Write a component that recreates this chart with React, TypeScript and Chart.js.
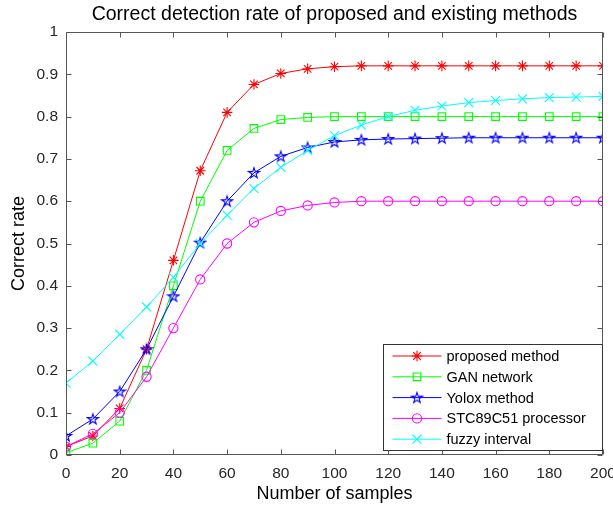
import React, { useEffect, useRef } from "react";
import { Chart, registerables } from "chart.js";
import { drawPoint } from "chart.js/helpers";

Chart.register(...registerables);

const samples = [0, 10, 20, 30, 40, 50, 60, 70, 80, 90, 100, 110, 120, 130, 140, 150, 160, 170, 180, 190, 200];
const proposedMethod = [0.02, 0.045, 0.11, 0.25, 0.46, 0.672, 0.81, 0.876, 0.902, 0.913, 0.918, 0.92, 0.92, 0.92, 0.92, 0.92, 0.92, 0.92, 0.92, 0.92, 0.92];
const ganNetwork = [0.005, 0.028, 0.08, 0.2, 0.4, 0.6, 0.72, 0.772, 0.793, 0.798, 0.8, 0.8, 0.8, 0.8, 0.8, 0.8, 0.8, 0.8, 0.8, 0.8, 0.8];
const yoloxMethod = [0.045, 0.085, 0.15, 0.25, 0.375, 0.502, 0.6, 0.667, 0.706, 0.727, 0.74, 0.745, 0.747, 0.748, 0.749, 0.75, 0.75, 0.75, 0.75, 0.75, 0.75];
const stcProcessor = [0.02, 0.05, 0.1, 0.185, 0.3, 0.415, 0.5, 0.55, 0.577, 0.59, 0.597, 0.6, 0.6, 0.6, 0.6, 0.6, 0.6, 0.6, 0.6, 0.6, 0.6];
const fuzzyInterval = [0.17, 0.222, 0.285, 0.35, 0.42, 0.5, 0.567, 0.63, 0.68, 0.72, 0.755, 0.78, 0.8, 0.815, 0.825, 0.833, 0.838, 0.842, 0.845, 0.846, 0.848];

const seriesNames = ["proposed method", "GAN network", "Yolox method", "STC89C51 processor", "fuzzy interval"];
const seriesColors = ["#ff0000", "#00ff00", "#0000ff", "#ff00ff", "#00ffff"];

const xTickValues = [0, 20, 40, 60, 80, 100, 120, 140, 160, 180, 200];
const yTickValues = [0, 0.1, 0.2, 0.3, 0.4, 0.5, 0.6, 0.7, 0.8, 0.9, 1];
const yTickLabels = ["0", "0.1", "0.2", "0.3", "0.4", "0.5", "0.6", "0.7", "0.8", "0.9", "1"];

const titleText = "Correct detection rate of proposed and existing methods";
const xTitle = "Number of samples";
const yTitle = "Correct rate";

const FONT = "'Liberation Sans', Arial, sans-serif";

function makePentagram(color: string): HTMLCanvasElement {
  const c = document.createElement("canvas");
  const s = 14;
  c.width = s;
  c.height = s;
  const ctx = c.getContext("2d")!;
  const cx = s / 2, cy = s / 2 + 0.4, R = 5.6, r = R * 0.382;
  ctx.beginPath();
  for (let k = 0; k < 10; k++) {
    const ang = -Math.PI / 2 + (k * Math.PI) / 5;
    const rad = k % 2 === 0 ? R : r;
    const px = cx + rad * Math.cos(ang);
    const py = cy + rad * Math.sin(ang);
    if (k === 0) ctx.moveTo(px, py);
    else ctx.lineTo(px, py);
  }
  ctx.closePath();
  ctx.strokeStyle = color;
  ctx.lineWidth = 1.1;
  ctx.stroke();
  return c;
}

export default function App() {
  const canvasRef = useRef<HTMLCanvasElement>(null);

  useEffect(() => {
    document.body.style.margin = "0";
    const canvas = canvasRef.current!;
    const pentagram = makePentagram(seriesColors[2]);
    const allData = [proposedMethod, ganNetwork, yoloxMethod, stcProcessor, fuzzyInterval];
    const styles: any[] = ["star", "rect", pentagram, "circle", "crossRot"];
    const radii = [5.3, 5.4, 6, 4.6, 6.3];
    const borderWidths = [1.1, 1.1, 1.1, 1.1, 1.1];

    const datasets = allData.map((d, i) => ({
      label: seriesNames[i],
      data: samples.map((x, j) => ({ x, y: d[j] })),
      borderColor: seriesColors[i],
      backgroundColor: "rgba(0,0,0,0)",
      pointBorderColor: seriesColors[i],
      pointBackgroundColor: "rgba(0,0,0,0)",
      pointStyle: styles[i],
      pointRadius: radii[i],
      pointBorderWidth: borderWidths[i],
      borderWidth: 1,
      tension: 0,
      order: 4 - i,
    }));

    const framePlugin = {
      id: "frame",
      afterDraw(chart: any) {
        const { ctx, chartArea } = chart;
        const { left, right, top, bottom } = chartArea;
        const xs = chart.scales.x;
        const ys = chart.scales.y;
        ctx.save();
        ctx.strokeStyle = "#555555";
        ctx.lineWidth = 1;
        const L = Math.round(left) + 0.5, R = Math.round(right) - 0.5;
        const T = Math.round(top) + 0.5, B = Math.round(bottom) - 0.5;
        ctx.beginPath();
        ctx.rect(L, T, R - L, B - T);
        const tl = 5;
        xTickValues.forEach((v) => {
          const px = Math.round(xs.getPixelForValue(v)) + 0.5;
          ctx.moveTo(px, B);
          ctx.lineTo(px, B - tl);
          ctx.moveTo(px, T);
          ctx.lineTo(px, T + tl);
        });
        yTickValues.forEach((v) => {
          const py = Math.round(ys.getPixelForValue(v)) + 0.5;
          ctx.moveTo(L, py);
          ctx.lineTo(L + tl, py);
          ctx.moveTo(R, py);
          ctx.lineTo(R - tl, py);
        });
        ctx.stroke();
        ctx.restore();
      },
    };

    const legendPlugin = {
      id: "boxLegend",
      afterDraw(chart: any) {
        const { ctx, chartArea } = chart;
        const boxR = chartArea.right - 0.5;
        const boxB = chartArea.bottom - 4.5;
        const boxW = 220;
        const boxH = 107;
        const boxL = boxR - boxW;
        const boxT = boxB - boxH;
        ctx.save();
        ctx.fillStyle = "#ffffff";
        ctx.fillRect(boxL, boxT, boxW, boxH);
        ctx.strokeStyle = "#333333";
        ctx.lineWidth = 1;
        ctx.strokeRect(Math.round(boxL) + 0.5, Math.round(boxT) + 0.5, Math.round(boxW) - 1, Math.round(boxH) - 1);
        const rowH = 20.8;
        const firstY = boxT + 12.5;
        ctx.font = `14.5px ${FONT}`;
        ctx.textBaseline = "middle";
        ctx.textAlign = "left";
        datasets.forEach((ds: any, i: number) => {
          const y = firstY + i * rowH;
          ctx.strokeStyle = ds.borderColor;
          ctx.lineWidth = 1;
          ctx.beginPath();
          ctx.moveTo(boxL + 10, y);
          ctx.lineTo(boxL + 59, y);
          ctx.stroke();
          ctx.strokeStyle = ds.pointBorderColor;
          ctx.fillStyle = "rgba(0,0,0,0)";
          ctx.lineWidth = ds.pointBorderWidth;
          drawPoint(ctx, { pointStyle: ds.pointStyle, radius: ds.pointRadius, rotation: 0, borderWidth: ds.pointBorderWidth } as any, boxL + 34.5, y);
          ctx.fillStyle = "#000000";
          ctx.fillText(ds.label, boxL + 64, y + 1);
        });
        ctx.restore();
      },
    };

    const chart = new Chart(canvas, {
      type: "line",
      data: { datasets },
      options: {
        animation: false,
        responsive: false,
        maintainAspectRatio: false,
        layout: { padding: { left: 0, right: 10, top: 0, bottom: 0 }, autoPadding: false } as any,
        plugins: {
          legend: { display: false },
          tooltip: { enabled: false },
          title: {
            display: true,
            fullSize: false,
            text: titleText,
            color: "#000000",
            font: { size: 19.5, family: FONT, weight: "normal" as any },
            padding: { top: 3, bottom: 5.6 },
          },
        },
        scales: {
          x: {
            type: "linear",
            min: 0,
            max: 200,
            afterFit: (s: any) => {
              s.height = 55;
              s.paddingLeft = 0;
              s.paddingRight = 0;
            },
            afterBuildTicks: (s: any) => {
              s.ticks = xTickValues.map((v) => ({ value: v }));
            },
            ticks: {
              color: "#262626",
              font: { size: 15.5, family: FONT },
              padding: 9,
              maxRotation: 0,
              autoSkip: false,
              callback: (v: any) => String(v),
            },
            grid: { display: false, drawTicks: false },
            border: { display: false },
            title: {
              display: true,
              text: xTitle,
              color: "#000000",
              font: { size: 18, family: FONT },
              padding: { top: 0, bottom: 5 },
            },
          },
          y: {
            type: "linear",
            min: 0,
            max: 1,
            afterFit: (s: any) => {
              s.width = 66;
              s.paddingTop = 0;
              s.paddingBottom = 0;
            },
            afterBuildTicks: (s: any) => {
              s.ticks = yTickValues.map((v) => ({ value: v }));
            },
            ticks: {
              color: "#262626",
              font: { size: 15.5, family: FONT },
              padding: 8,
              autoSkip: false,
              callback: (_v: any, idx: number) => yTickLabels[idx],
            },
            grid: { display: false, drawTicks: false },
            border: { display: false },
            title: {
              display: true,
              text: yTitle,
              color: "#000000",
              font: { size: 18, family: FONT },
              padding: { top: 8, bottom: 0 },
            },
          },
        },
      },
      plugins: [framePlugin, legendPlugin],
    });
    return () => chart.destroy();
  }, []);

  return (
    <div style={{ width: 613, height: 510, background: "#ffffff" }}>
      <canvas ref={canvasRef} width={613} height={510} style={{ display: "block", width: 613, height: 510 }} />
    </div>
  );
}
